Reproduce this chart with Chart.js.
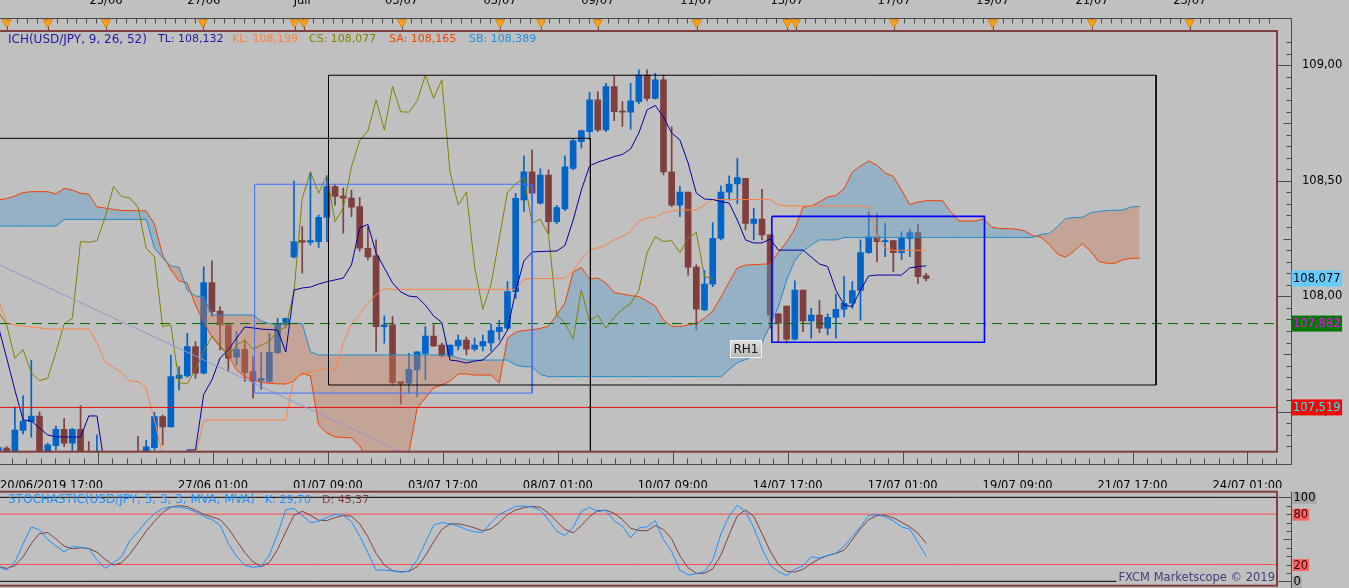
<!DOCTYPE html>
<html>
<head>
<meta charset="utf-8">
<title>USD/JPY Ichimoku</title>
<script src="https://cdn.jsdelivr.net/npm/chart.js@4.4.1/dist/chart.umd.min.js"></script>
<style>
  html, body { margin: 0; padding: 0; background: #c0c0c0; overflow: hidden; }
  #main { position: absolute; left: 0; top: 0; }
  #stoch { position: absolute; left: 0; top: 488px; }
</style>
</head>
<body>
<canvas id="main" width="1349" height="488"></canvas>
<canvas id="stoch" width="1349" height="100"></canvas>
<script>
// bar index of the first value in every series below
const firstBar = -1;

// H4 candles, bar -1 .. 112
const opens = [107.28,
  107.343, 107.30, 107.419, 107.457, 107.482, 107.29, 107.353, 107.424, 107.364, 107.424,
  107.30, 107.26, 107.30, 107.26, 107.29, 107.25, 107.30, 107.28, 107.345, 107.479,
  107.435, 107.645, 107.655, 107.782, 107.667, 108.059, 107.936, 107.876, 107.736, 107.770,
  107.674, 107.635, 107.631, 107.756, 107.876, 108.171, 108.241, 108.234, 108.237, 108.342,
  108.475, 108.434, 108.425, 108.388, 108.208, 108.175, 107.869, 107.876, 107.631, 107.624,
  107.681, 107.753, 107.828, 107.789, 107.742, 107.785, 107.811, 107.771, 107.785, 107.798,
  107.847, 107.862, 108.020, 108.417, 108.539, 108.403, 108.525, 108.323, 108.378, 108.554,
  108.669, 108.713, 108.850, 108.720, 108.908, 108.802, 108.797, 108.843, 108.958, 108.857,
  108.937, 108.539, 108.395, 108.451, 108.126, 107.941, 108.053, 108.251, 108.451, 108.486,
  108.511, 108.316, 108.334, 108.266, 107.924, 107.958, 107.814, 108.027, 107.893, 107.919,
  107.862, 107.909, 107.944, 107.970, 108.025, 108.189, 108.258, 108.237, 108.241, 108.189,
  108.251, 108.276, 108.089];
const highs = [107.35,
  107.35, 107.522, 107.569, 107.724, 107.500, 107.365, 107.438, 107.472, 107.429, 107.527,
  107.371, 107.400, 107.31, 107.31, 107.30, 107.31, 107.394, 107.378, 107.498, 107.486,
  107.746, 107.696, 107.840, 107.804, 108.128, 108.154, 107.955, 107.884, 107.847, 107.811,
  107.739, 107.756, 107.840, 107.905, 107.905, 108.499, 108.302, 108.535, 108.352, 108.518,
  108.482, 108.468, 108.460, 108.429, 108.302, 108.244, 107.915, 107.912, 107.631, 107.753,
  107.760, 107.869, 107.876, 107.798, 107.789, 107.832, 107.823, 107.819, 107.832, 107.880,
  107.897, 108.064, 108.446, 108.608, 108.634, 108.552, 108.547, 108.394, 108.608, 108.681,
  108.720, 108.882, 108.886, 108.922, 108.954, 108.843, 108.922, 108.980, 108.980, 108.965,
  108.958, 108.734, 108.475, 108.451, 108.136, 108.111, 108.319, 108.478, 108.521, 108.597,
  108.511, 108.381, 108.463, 108.266, 107.924, 107.958, 108.067, 108.027, 107.948, 107.981,
  107.924, 108.010, 108.085, 108.064, 108.244, 108.366, 108.359, 108.316, 108.241, 108.280,
  108.290, 108.313, 108.100];
const lows = [107.25,
  107.30, 107.28, 107.404, 107.390, 107.26, 107.27, 107.335, 107.349, 107.333, 107.26,
  107.24, 107.23, 107.22, 107.23, 107.22, 107.22, 107.24, 107.26, 107.335, 107.357,
  107.435, 107.595, 107.649, 107.645, 107.664, 107.912, 107.768, 107.674, 107.703, 107.631,
  107.559, 107.598, 107.626, 107.753, 107.866, 108.165, 108.100, 108.222, 108.212, 108.237,
  108.395, 108.273, 108.345, 108.194, 108.157, 107.760, 107.797, 107.616, 107.534, 107.580,
  107.566, 107.638, 107.782, 107.738, 107.736, 107.768, 107.746, 107.764, 107.764, 107.764,
  107.811, 107.858, 107.991, 108.367, 108.417, 108.399, 108.273, 108.313, 108.371, 108.547,
  108.641, 108.677, 108.713, 108.713, 108.760, 108.735, 108.723, 108.833, 108.846, 108.853,
  108.525, 108.388, 108.345, 108.092, 107.857, 107.938, 108.042, 108.244, 108.417, 108.400,
  108.287, 108.244, 108.244, 107.862, 107.804, 107.797, 107.811, 107.847, 107.819, 107.843,
  107.833, 107.819, 107.911, 107.948, 107.897, 108.186, 108.150, 108.172, 108.107, 108.157,
  108.172, 108.056, 108.067];
const closes = [107.345,
  107.330, 107.421, 107.460, 107.482, 107.29, 107.357, 107.424, 107.364, 107.424, 107.29,
  107.27, 107.30, 107.26, 107.29, 107.25, 107.28, 107.27, 107.348, 107.479, 107.435,
  107.652, 107.659, 107.782, 107.667, 108.059, 107.934, 107.876, 107.732, 107.770, 107.669,
  107.635, 107.645, 107.758, 107.879, 107.905, 108.237, 108.234, 108.241, 108.342, 108.475,
  108.432, 108.425, 108.386, 108.208, 108.171, 107.869, 107.876, 107.626, 107.621, 107.684,
  107.760, 107.828, 107.785, 107.742, 107.789, 107.811, 107.771, 107.789, 107.804, 107.852,
  107.866, 108.020, 108.424, 108.539, 108.446, 108.525, 108.323, 108.384, 108.561, 108.674,
  108.717, 108.850, 108.720, 108.908, 108.799, 108.797, 108.846, 108.958, 108.857, 108.937,
  108.539, 108.395, 108.451, 108.126, 107.944, 108.053, 108.251, 108.451, 108.486, 108.514,
  108.316, 108.334, 108.266, 107.919, 107.884, 107.814, 108.027, 107.893, 107.919, 107.862,
  107.909, 107.944, 107.970, 108.025, 108.189, 108.258, 108.237, 108.241, 108.189, 108.251,
  108.276, 108.085, 108.077];

// Ichimoku lines
const tenkan = [107.867,
  107.733, 107.594, 107.465, 107.460, 107.430, 107.400, 107.392, 107.391, 107.391, 107.391,
  107.482, 107.482, 107.25, 107.25, 107.25, 107.25, 107.25, 107.25, 107.25, 107.25,
  107.25, 107.25, 107.335, 107.335, 107.575, 107.638, 107.733, 107.768, 107.819, 107.867,
  107.863, 107.858, 107.856, 107.854, 107.759, 108.027, 108.036, 108.040, 108.053, 108.063,
  108.071, 108.079, 108.136, 108.296, 108.311, 108.187, 108.123, 108.058, 108.019, 108.001,
  107.997, 107.962, 107.915, 107.887, 107.724, 107.720, 107.711, 107.720, 107.724, 107.755,
  107.794, 107.854, 108.023, 108.153, 108.192, 108.194, 108.195, 108.196, 108.220, 108.330,
  108.460, 108.564, 108.581, 108.592, 108.605, 108.614, 108.638, 108.707, 108.807, 108.826,
  108.776, 108.707, 108.677, 108.577, 108.447, 108.421, 108.419, 108.410, 108.404, 108.330,
  108.244, 108.231, 108.231, 108.248, 108.200, 108.200, 108.200, 108.200, 108.170, 108.140,
  108.129, 108.027, 107.962, 107.956, 108.027, 108.088, 108.092, 108.092, 108.092, 108.092,
  108.123, 108.128, 108.132];
const kijun = [107.984,
  107.884, 107.876, 107.871, 107.867, 107.863, 107.858, 107.858, 107.858, 107.858, 107.858,
  107.858, 107.798, 107.716, 107.692, 107.672, 107.633, 107.631, 107.603, 107.465, 107.313,
  107.28, 107.28, 107.28, 107.313, 107.460, 107.465, 107.465, 107.465, 107.465, 107.465,
  107.465, 107.465, 107.465, 107.465, 107.465, 107.646, 107.659, 107.672, 107.681, 107.687,
  107.679, 107.798, 107.880, 107.923, 107.971, 108.006, 108.034, 108.030, 108.030, 108.030,
  108.030, 108.030, 108.030, 108.030, 108.030, 108.030, 108.030, 108.030, 108.030, 108.030,
  108.030, 108.030, 108.030, 108.071, 108.077, 108.077, 108.077, 108.077, 108.079, 108.109,
  108.161, 108.200, 108.209, 108.222, 108.244, 108.259, 108.281, 108.326, 108.339, 108.343,
  108.361, 108.369, 108.374, 108.374, 108.374, 108.395, 108.419, 108.419, 108.419, 108.419,
  108.419, 108.419, 108.419, 108.419, 108.395, 108.391, 108.391, 108.391, 108.391, 108.391,
  108.391, 108.391, 108.391, 108.391, 108.391, 108.387, 108.257, 108.209, 108.199, 108.199,
  108.199, 108.199, 108.199];
const chikou = [107.934,
  107.876, 107.732, 107.770, 107.669, 107.635, 107.645, 107.758, 107.879, 107.905, 108.237,
  108.234, 108.241, 108.342, 108.475, 108.432, 108.425, 108.386, 108.208, 108.171, 107.869,
  107.876, 107.626, 107.621, 107.684, 107.760, 107.828, 107.785, 107.742, 107.789, 107.811,
  107.771, 107.789, 107.804, 107.852, 107.866, 108.020, 108.424, 108.539, 108.446, 108.525,
  108.323, 108.384, 108.561, 108.674, 108.717, 108.850, 108.720, 108.908, 108.799, 108.797,
  108.846, 108.958, 108.857, 108.937, 108.539, 108.395, 108.451, 108.126, 107.944, 108.053,
  108.251, 108.451, 108.486, 108.514, 108.316, 108.334, 108.266, 107.919, 107.884, 107.814,
  108.027, 107.893, 107.919, 107.862, 107.909, 107.944, 107.970, 108.025, 108.189, 108.258,
  108.237, 108.241, 108.189, 108.251, 108.276, 108.085, 108.077];
const senkouA = [108.417,
  108.423, 108.434, 108.449, 108.453, 108.453, 108.453, 108.443, 108.467, 108.460, 108.446,
  108.442, 108.387, 108.382, 108.376, 108.371, 108.371, 108.371, 108.369, 108.313, 108.179,
  108.114, 108.066, 108.058, 107.962, 107.889, 107.824, 107.782, 107.746, 107.681, 107.651,
  107.638, 107.627, 107.624, 107.621, 107.620, 107.633, 107.668, 107.655, 107.443, 107.408,
  107.391, 107.389, 107.387, 107.352, 107.29, 107.28, 107.28, 107.28, 107.29, 107.326,
  107.516, 107.560, 107.603, 107.616, 107.633, 107.664, 107.664, 107.659, 107.659, 107.659,
  107.625, 107.819, 107.845, 107.852, 107.855, 107.861, 107.871, 107.919, 107.971, 108.105,
  108.125, 108.075, 108.079, 108.058, 108.016, 108.010, 108.003, 107.999, 107.980, 107.958,
  107.897, 107.871, 107.869, 107.876, 107.882, 107.906, 107.936, 107.997, 108.062, 108.123,
  108.135, 108.137, 108.139, 108.140, 108.192, 108.235, 108.291, 108.387, 108.391, 108.408,
  108.430, 108.436, 108.465, 108.538, 108.564, 108.586, 108.568, 108.534, 108.519, 108.460,
  108.397, 108.408, 108.414, 108.414, 108.414, 108.365, 108.326, 108.326, 108.326, 108.335,
  108.300, 108.293, 108.293, 108.291, 108.283, 108.263, 108.255, 108.224, 108.183, 108.169,
  108.196, 108.228, 108.196, 108.151, 108.143, 108.143, 108.159, 108.165, 108.165];
const senkouB = [108.304,
  108.304, 108.304, 108.304, 108.304, 108.304, 108.304, 108.304, 108.333, 108.333, 108.333,
  108.333, 108.333, 108.333, 108.333, 108.333, 108.333, 108.333, 108.333, 108.209, 108.166,
  108.131, 108.125, 108.027, 108.001, 107.999, 107.919, 107.919, 107.919, 107.919, 107.919,
  107.919, 107.893, 107.882, 107.881, 107.881, 107.883, 107.882, 107.759, 107.746, 107.746,
  107.746, 107.746, 107.746, 107.746, 107.746, 107.746, 107.746, 107.746, 107.746, 107.746,
  107.746, 107.746, 107.746, 107.746, 107.746, 107.733, 107.724, 107.724, 107.724, 107.724,
  107.724, 107.724, 107.703, 107.695, 107.695, 107.662, 107.652, 107.652, 107.652, 107.652,
  107.652, 107.652, 107.652, 107.652, 107.652, 107.652, 107.652, 107.652, 107.652, 107.652,
  107.652, 107.652, 107.652, 107.652, 107.652, 107.652, 107.652, 107.652, 107.683, 107.713,
  107.726, 107.742, 107.798, 107.876, 107.954, 108.071, 108.155, 108.196, 108.222, 108.244,
  108.244, 108.244, 108.255, 108.255, 108.255, 108.255, 108.255, 108.255, 108.255, 108.255,
  108.255, 108.255, 108.255, 108.255, 108.255, 108.255, 108.255, 108.255, 108.255, 108.255,
  108.255, 108.255, 108.255, 108.255, 108.255, 108.255, 108.268, 108.272, 108.302, 108.337,
  108.341, 108.342, 108.361, 108.367, 108.371, 108.372, 108.374, 108.387, 108.389];

// Stochastic 5,3,3, bar -1 .. 112
const stochK = [17.4,
  13.4, 22.9, 44.3, 64.8, 61.3, 49.8, 41.9, 35.2, 41.5, 40.7,
  39.1, 25.7, 15.4, 22.1, 29.2, 48.2, 58.9, 71.1, 80.6, 86.6,
  88.9, 88.1, 86.6, 82.6, 77.5, 73.5, 66.8, 45.1, 30.0, 19.0,
  16.6, 17.8, 31.2, 56.5, 85.4, 86.6, 78.3, 70.0, 71.5, 75.9,
  79.8, 78.7, 70.8, 53.8, 34.0, 13.4, 13.4, 12.6, 10.7, 12.3,
  25.3, 46.2, 66.8, 70.0, 68.4, 65.6, 61.7, 58.9, 58.1, 70.0,
  79.8, 84.2, 89.3, 89.7, 88.5, 84.6, 73.1, 59.7, 54.5, 64.4,
  83.4, 88.1, 83.0, 84.6, 71.9, 65.6, 51.8, 63.6, 64.8, 72.3,
  49.8, 35.2, 13.4, 7.5, 9.1, 11.5, 25.3, 56.5, 77.9, 90.5,
  83.0, 64.0, 39.1, 19.4, 11.5, 7.1, 14.2, 18.6, 29.2, 27.7,
  30.8, 33.6, 41.9, 53.4, 65.2, 78.3, 79.4, 77.1, 71.9, 64.8,
  62.1, 46.6, 29.70];
const stochD = [17.8,
  15.4, 18.6, 29.2, 45.1, 56.9, 58.1, 50.6, 41.9, 38.7, 39.9,
  39.1, 34.8, 26.1, 19.4, 22.1, 32.4, 45.8, 59.7, 71.5, 81.8,
  88.5, 90.1, 88.9, 84.6, 79.8, 76.7, 73.5, 62.8, 48.6, 34.4,
  23.3, 17.4, 22.5, 37.9, 58.9, 78.7, 83.4, 78.7, 72.7, 72.3,
  75.9, 78.3, 77.5, 68.4, 53.0, 33.2, 19.4, 12.6, 11.5, 11.9,
  17.4, 30.4, 47.0, 61.7, 68.4, 68.4, 66.4, 63.6, 60.1, 62.5,
  70.0, 79.4, 85.0, 87.7, 89.3, 88.1, 81.4, 71.1, 62.1, 57.7,
  66.4, 77.1, 84.2, 84.6, 81.0, 73.5, 63.2, 60.5, 60.1, 66.4,
  61.7, 50.6, 30.4, 16.2, 9.5, 9.5, 15.0, 31.2, 55.7, 77.9,
  85.0, 77.5, 56.9, 36.0, 19.8, 11.9, 11.1, 14.2, 21.3, 26.9,
  30.8, 33.2, 37.2, 49.4, 62.5, 73.5, 78.3, 78.7, 75.5, 70.4,
  64.8, 57.3, 45.37];
const stochLevels = [100, 80, 20, 0];

// visible window
const xMin = -0.812, xMax = 154.73;
const yMin = 107.3273, yMax = 109.1485;
const stMin = -5.2, stMax = 106.7;

// axes
const yTickValues = [107.5, 108.0, 108.5, 109.0];
const bottomTickBars = [xMin, 11.13, 25.13, 39.13, 53.13, 67.13, 81.13, 95.13, 109.13, 123.13, 137.13, 151.13, xMax];
const bottomTickLabels = ['20/06/2019 17:00', '', '27/06 01:00', '01/07 09:00', '03/07 17:00', '08/07 01:00',
  '10/07 09:00', '14/07 17:00', '17/07 01:00', '19/07 09:00', '21/07 17:00', '24/07 01:00', ''];
const topTickBars = [12.1, 24, 36, 48.1, 60.1, 72, 84.05, 95.05, 108.1, 120.1, 132.2, 144.1];
const topTickLabels = ['25/06', '27/06', 'Juil', '03/07', '05/07', '09/07', '11/07', '13/07', '17/07', '19/07', '21/07', '23/07'];
const eventBars = [0, 5, 12.1, 23.9, 35.07, 36.2, 48.15, 60.1, 65.1, 72, 84.06, 95.1, 96.1, 108.1, 120.1, 132.2, 144.1];

// horizontal levels and price tags
const levelGreen = 107.882;
const levelRed = 107.519;
const priceTags = [closes[closes.length - 1], levelGreen, levelRed];

// drawing objects in bar / price units: [left, right, top, bottom]
const boxes = [
  [39.2, 140.0, 108.957, 107.616],
  [30.2, 64.0, 108.485, 107.581],
  [93.2, 119.1, 108.346, 107.801]
];
const bracket = [[-1, 108.684], [71.1, 108.684], [71.1, 107.0]];
const trendLine = [[-1, 108.138], [60, 107.130]];
const rhLabel = { bar: 88.1, price: 107.811, text: 'RH1' };

// ---------- styles ----------
const UP = '#0064c8', DOWN = '#7f3f3f';
const CLOUD_UP = 'rgba(92,157,202,0.42)', CLOUD_DN = 'rgba(202,127,92,0.42)';
const BOX_COLORS = ['#000000', '#3f6fff', '#0000ff'];
const BOX_WIDTHS = [1, 1, 1.6];
const TAG_BG = ['#66ccff', '#007800', '#ff0000'];
const TAG_FG = ['#000000', '#ff00ff', '#00ffff'];
const LEGEND_X = [8, 158, 232, 309, 389, 469];
const LEGEND_COL = ['#1c1ca8', '#1c1ca8', '#ff8040', '#808000', '#ee4400', '#1e90d8'];
const FONT = '11.5px "DejaVu Sans"';
const VALUE_FONT = '11px "DejaVu Sans"';
const TITLE_FONT = '12px "DejaVu Sans"';

Chart.defaults.font.family = '"DejaVu Sans", sans-serif';
Chart.defaults.font.size = 11.5;
Chart.defaults.color = '#000';

const fmt = (v, d) => v.toFixed(d).replace('.', ',');
const last = a => a[a.length - 1];
const pts = (arr, from) => arr.map((v, k) => ({ x: from + k, y: v }));
const span = v => [{ x: xMin, y: v }, { x: xMax, y: v }];
const boxPts = ([l, r, t, b]) => [{ x: l, y: t }, { x: r, y: t }, { x: r, y: b }, { x: l, y: b }, { x: l, y: t }];
const lineDs = (data, color, order, extra) => Object.assign({
  type: 'line', data, borderColor: color, borderWidth: 1, pointRadius: 0, tension: 0, fill: false, order
}, extra || {});
const fixBox = (w, h) => s => {
  if (w != null) s.width = w;
  if (h != null) s.height = h;
  s.paddingLeft = s.paddingRight = s.paddingTop = s.paddingBottom = 0;
};

const barIdx = opens.map((o, k) => firstBar + k);
const candleColor = c => closes[c.dataIndex] >= opens[c.dataIndex] ? UP : DOWN;

const legendParts = [
  'ICH(USD/JPY, 9, 26, 52)',
  'TL: ' + fmt(last(tenkan), 3),
  'KL: ' + fmt(last(kijun), 3),
  'CS: ' + fmt(last(chikou), 3),
  'SA: ' + fmt(last(senkouA), 3),
  'SB: ' + fmt(last(senkouB), 3)
];

// axis decoration, frame, tags and legend of the price panel
const mainFrame = {
  id: 'mainFrame',
  afterDraw(chart) {
    const { ctx, chartArea: a } = chart;
    const xs = chart.scales.x, ys = chart.scales.y;
    const axR = Math.round(a.right) + 14.5;
    const axT = Math.round(a.top) - 12.5;
    const axB = Math.round(a.bottom) + 12.5;
    const px = b => Math.round(xs.getPixelForValue(b)) + 0.5;
    ctx.save();

    ctx.strokeStyle = '#4a4a4a';
    ctx.lineWidth = 1;
    ctx.beginPath();
    ctx.moveTo(0, axT); ctx.lineTo(axR, axT);
    ctx.moveTo(0, axB); ctx.lineTo(axR, axB);
    ctx.moveTo(axR, axT); ctx.lineTo(axR, axB);
    for (let k = Math.ceil(yMin / 0.05); k * 0.05 <= yMax; k++) {
      const py = Math.round(ys.getPixelForValue(k * 0.05)) + 0.5;
      const len = k % 10 === 0 ? 14 : (k % 5 === 0 ? 8 : 5);
      ctx.moveTo(axR - len, py); ctx.lineTo(axR, py);
    }
    const bStart = bottomTickBars[1] - 14;
    for (let j = 0; ; j++) {
      const b = bStart + j * 14 / 8;
      if (b > xMax) break;
      const x = px(b);
      if (x < 0) continue;
      ctx.moveTo(x, j % 8 === 0 ? a.bottom : axB - 6); ctx.lineTo(x, axB);
    }
    for (let j = 0; ; j++) {
      const b = topTickBars[0] - 12 + j * 1.2;
      if (b > xMax) break;
      ctx.moveTo(px(b), axT); ctx.lineTo(px(b), axT + 5);
    }
    topTickBars.forEach(b => { ctx.moveTo(px(b), axT); ctx.lineTo(px(b), axT + 8); });
    eventBars.forEach(b => { ctx.moveTo(px(b), axT + 8); ctx.lineTo(px(b), a.top); });
    ctx.stroke();

    ctx.fillStyle = '#ffa01c';
    ctx.strokeStyle = '#d07800';
    ctx.lineWidth = 0.8;
    eventBars.forEach(b => {
      const x = xs.getPixelForValue(b);
      ctx.beginPath();
      ctx.moveTo(x - 4.5, axT + 1.2); ctx.lineTo(x + 4.5, axT + 1.2); ctx.lineTo(x, axT + 9.5);
      ctx.closePath(); ctx.fill(); ctx.stroke();
    });

    ctx.strokeStyle = '#7f3f3f';
    ctx.lineWidth = 2;
    ctx.strokeRect(-1, a.top, a.right + 1, a.bottom - a.top);

    ctx.font = FONT;
    ctx.textBaseline = 'middle';
    ctx.textAlign = 'left';
    priceTags.forEach((v, k) => {
      const py = ys.getPixelForValue(v);
      const txt = fmt(v, 3);
      const w = ctx.measureText(txt).width + 3;
      ctx.fillStyle = TAG_BG[k];
      ctx.fillRect(axR, py - 8, w, 16);
      ctx.fillStyle = TAG_FG[k];
      ctx.fillText(txt, axR + 1.5, py + 0.5);
    });

    legendParts.forEach((t, k) => {
      ctx.font = k === 0 ? TITLE_FONT : VALUE_FONT;
      ctx.fillStyle = LEGEND_COL[k];
      ctx.fillText(t, LEGEND_X[k], a.top + 8.5);
    });

    const rx = xs.getPixelForValue(rhLabel.bar), ry = ys.getPixelForValue(rhLabel.price);
    const g = ctx.createLinearGradient(0, ry, 0, ry + 18);
    g.addColorStop(0, '#e2e2e2');
    g.addColorStop(1, '#b6b6b6');
    ctx.fillStyle = g;
    ctx.fillRect(rx, ry, 32, 18);
    ctx.strokeStyle = '#f2f2f2';
    ctx.lineWidth = 1;
    ctx.strokeRect(Math.round(rx) + 0.5, Math.round(ry) + 0.5, 31, 17);
    ctx.fillStyle = '#1a1a1a';
    ctx.font = '12px "DejaVu Sans"';
    ctx.textAlign = 'center';
    ctx.fillText(rhLabel.text, rx + 16, ry + 9.5);
    ctx.restore();
  }
};

new Chart(document.getElementById('main'), {
  type: 'bar',
  data: {
    datasets: [
      { type: 'bar', data: barIdx.map((b, k) => ({ x: b, y: [lows[k], highs[k]] })),
        backgroundColor: candleColor, borderWidth: 0, barThickness: 1, grouped: false, order: 21 },
      { type: 'bar', data: barIdx.map((b, k) => ({ x: b, y: [opens[k], closes[k]] })),
        backgroundColor: candleColor, borderWidth: 0, barThickness: 6, minBarLength: 1, grouped: false, order: 20 },
      lineDs(pts(senkouA, firstBar), '#f04000', 11, { fill: { target: '+1', above: CLOUD_UP, below: CLOUD_DN } }),
      lineDs(pts(senkouB, firstBar), '#1e8cc8', 10),
      lineDs(pts(chikou, firstBar), '#808000', 6),
      lineDs(pts(kijun, firstBar), '#ff8040', 5),
      lineDs(pts(tenkan, firstBar), '#0000a0', 4),
      lineDs(span(levelGreen), '#006a00', 3, { borderDash: [10, 6] }),
      lineDs(span(levelRed), '#e81010', 3),
      lineDs(trendLine.map(([x, y]) => ({ x, y })), '#9494cc', 2),
      lineDs(bracket.map(([x, y]) => ({ x, y })), '#000000', 2),
      ...boxes.map((bx, k) => lineDs(boxPts(bx), BOX_COLORS[k], 1, { borderWidth: BOX_WIDTHS[k] }))
    ]
  },
  options: {
    responsive: false,
    animation: false,
    events: [],
    layout: { padding: 0, autoPadding: false },
    plugins: { legend: { display: false }, tooltip: { enabled: false } },
    scales: {
      x: {
        type: 'linear', position: 'bottom', min: xMin, max: xMax, offset: false,
        grid: { display: false, offset: false }, border: { display: false },
        ticks: { autoSkip: false, maxRotation: 0, align: 'inner', padding: 19.3,
          callback: (v, i) => bottomTickLabels[i] },
        afterBuildTicks: s => { s.ticks = bottomTickBars.map(v => ({ value: v })); },
        afterFit: fixBox(null, 36.3)
      },
      x2: {
        type: 'linear', axis: 'x', position: 'top', min: xMin, max: xMax, offset: false,
        grid: { display: false }, border: { display: false },
        ticks: { autoSkip: false, maxRotation: 0, padding: 14.8, callback: (v, i) => topTickLabels[i] },
        afterBuildTicks: s => { s.ticks = topTickBars.map(v => ({ value: v })); },
        afterFit: fixBox(null, 31)
      },
      y: {
        type: 'linear', position: 'right', min: yMin, max: yMax, beginAtZero: false,
        grid: { display: false }, border: { display: false },
        ticks: { padding: 17, callback: v => fmt(v, 2) },
        afterBuildTicks: s => { s.ticks = yTickValues.map(v => ({ value: v })); },
        afterFit: fixBox(72, null)
      }
    }
  },
  plugins: [mainFrame]
});

// ---------- stochastic panel ----------
const LEVEL_BG = ['#a6a6a6', '#ff6262', '#ff6262', '#a6a6a6'];
const LEVEL_FG = ['#000000', '#3a0000', '#3a0000', '#000000'];

const stochFrame = {
  id: 'stochFrame',
  afterDraw(chart) {
    const { ctx, chartArea: a } = chart;
    const ys = chart.scales.y;
    const axR = Math.round(a.right) + 14.5;
    ctx.save();
    ctx.font = FONT;
    ctx.textBaseline = 'middle';
    ctx.textAlign = 'left';

    const credit = 'FXCM Marketscope \u00a9 2019';
    const cw = ctx.measureText(credit).width;
    const cx = a.right - 2 - cw, cy = a.bottom - 7.4;
    ctx.fillStyle = '#c0c0c0';
    ctx.fillRect(cx - 2, cy - 6, cw + 3, 12);
    ctx.fillStyle = '#40407c';
    ctx.fillText(credit, cx, cy);

    ctx.strokeStyle = '#4a4a4a';
    ctx.lineWidth = 1;
    ctx.beginPath();
    ctx.moveTo(axR, a.top); ctx.lineTo(axR, chart.height);
    for (let v = 0; v <= 100; v += 10) {
      const py = Math.round(ys.getPixelForValue(v)) + 0.5;
      const len = (v === 0 || v === 100) ? 13 : (v === 50 ? 8 : 5);
      ctx.moveTo(axR - len, py); ctx.lineTo(axR, py);
    }
    ctx.stroke();

    ctx.strokeStyle = '#7f3f3f';
    ctx.lineWidth = 2;
    ctx.strokeRect(-1, a.top, a.right + 1, a.bottom - a.top);

    stochLevels.forEach((v, k) => {
      const py = ys.getPixelForValue(v);
      const txt = String(v);
      const w = ctx.measureText(txt).width + 2;
      ctx.fillStyle = LEVEL_BG[k];
      ctx.fillRect(axR + 1, py - 5.5, w, 12);
      ctx.fillStyle = LEVEL_FG[k];
      ctx.fillText(txt, axR + 2, py + 1);
    });

    const ly = a.top + 8.3;
    ctx.font = TITLE_FONT;
    ctx.fillStyle = '#1e90ff';
    ctx.fillText('STOCHASTIC(USD/JPY, 5, 3, 3, MVA, MVA)', 8, ly);
    ctx.font = VALUE_FONT;
    ctx.fillText('K: ' + fmt(last(stochK), 2), 265, ly);
    ctx.fillStyle = '#804040';
    ctx.fillText('D: ' + fmt(last(stochD), 2), 322, ly);
    ctx.restore();
  }
};

new Chart(document.getElementById('stoch'), {
  type: 'line',
  data: {
    datasets: [
      lineDs(pts(stochK, firstBar), '#1e90ff', 1),
      lineDs(pts(stochD, firstBar), '#804040', 2),
      lineDs(span(80), '#ff4c4c', 5),
      lineDs(span(20), '#ff4c4c', 5),
      lineDs(span(100), '#000000', 5),
      lineDs(span(0), '#000000', 5)
    ]
  },
  options: {
    responsive: false,
    animation: false,
    events: [],
    layout: { padding: { top: 3.7, bottom: 2.3, left: 0, right: 0 }, autoPadding: false },
    plugins: { legend: { display: false }, tooltip: { enabled: false } },
    scales: {
      x: { type: 'linear', display: false, min: xMin, max: xMax },
      y: {
        type: 'linear', position: 'right', min: stMin, max: stMax,
        grid: { display: false }, border: { display: false }, ticks: { display: false },
        afterFit: fixBox(72, null)
      }
    }
  },
  plugins: [stochFrame]
});
</script>
</body>
</html>
